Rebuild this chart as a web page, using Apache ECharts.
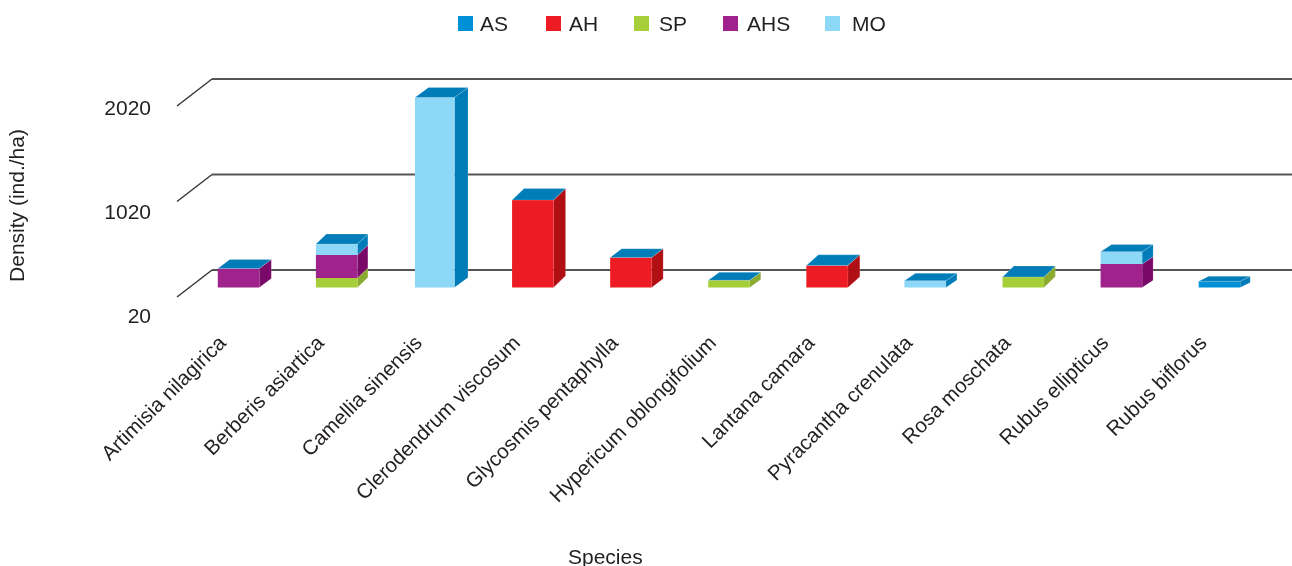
<!DOCTYPE html>
<html>
<head>
<meta charset="utf-8">
<style>html,body{margin:0;padding:0;background:#fff}#chart{width:1292px;height:566px}</style>
<script src="https://cdn.jsdelivr.net/npm/echarts@6/dist/echarts.min.js"></script>
</head>
<body>
<div id="chart"></div>
<script>
// Plant density per species, split by use group. Stacks are read off a value
// axis that starts at 20, so the lowest segment of each stack includes that offset.
const species = ['Artimisia nilagirica', 'Berberis asiartica', 'Camellia sinensis',
  'Clerodendrum viscosum', 'Glycosmis pentaphylla', 'Hypericum oblongifolium',
  'Lantana camara', 'Pyracantha crenulata', 'Rosa moschata', 'Rubus ellipticus', 'Rubus biflorus'];
const AS  = [0, 0, 0, 0, 0, 0, 0, 0, 0, 0, 85];
const AH  = [0, 0, 0, 935, 335, 0, 250, 0, 0, 0, 0];
const SP  = [0, 120, 0, 0, 0, 95, 0, 0, 130, 0, 0];
const AHS = [220, 240, 0, 0, 0, 0, 0, 0, 0, 265, 0];
const MO  = [0, 115, 2010, 0, 0, 0, 0, 90, 0, 130, 0];
const yTicks = [20, 1020, 2020];

const groups = [
  { name: 'AS',  values: AS,  front: '#0090D7', side: '#007DB8', left: 458, gap: 2 },
  { name: 'AH',  values: AH,  front: '#ED1C24', side: '#B00F14', left: 546, gap: 3 },
  { name: 'SP',  values: SP,  front: '#A6CE39', side: '#8BAA30', left: 634, gap: 5 },
  { name: 'AHS', values: AHS, front: '#A0228D', side: '#7A0868', left: 723, gap: 4 },
  { name: 'MO',  values: MO,  front: '#8DD7F7', side: '#007DB8', left: 825, gap: 7 }
];
const topFace = '#007DB8';
const inkColor = '#231F20';
const fontFamily = '"Liberation Sans", Arial, sans-serif';
const fontSize = 21;

// Receding depth and front width of each box, as drawn per species
const boxShape = [[12, 9, 41.5], [10.5, 10, 41.5], [13.5, 10, 39.5], [12, 11.7, 41.5], [11.5, 8.7, 41.5], [11, 8, 41.5],
  [12, 10.7, 41.5], [11, 7.6, 41.5], [11.3, 11, 41.5], [11, 7.3, 41.5], [10, 5, 41.5]];
const floorBack = -17.5, floorFront = 9.5; // wall lines relative to the box plane
const wallLeft = 212, wallRight = 1292, slashDx = 35;

// Stack bookkeeping: each group's [low, high] per species, and which one caps the stack
const stackTop = species.map((_, i) => groups.reduce((s, g) => s + g.values[i], 0));
const running = species.map(() => 0);
const segments = groups.map(() => []);
[2, 3, 1, 0, 4].forEach(gi => {
  groups[gi].values.forEach((v, i) => {
    if (!v) return;
    const low = running[i];
    running[i] += v;
    segments[gi].push([i, low, running[i], running[i] === stackTop[i] ? 1 : 0]);
  });
});

function poly(points, fill, stroke) {
  return { type: 'polygon', shape: { points },
    style: { fill, stroke: stroke || null, lineWidth: stroke ? 0.8 : 0 } };
}

function boxRenderer(group) {
  return function (params, api) {
    const i = api.value(0);
    const [dx, dy, width] = boxShape[i];
    const cx = api.coord([i, 20])[0];
    const x0 = cx - width / 2, x1 = cx + width / 2;
    const yLow = api.coord([i, Math.max(api.value(1), 20)])[1];
    const yHigh = api.coord([i, api.value(2)])[1];
    const kids = [
      poly([[x1, yLow], [x1 + dx, yLow - dy], [x1 + dx, yHigh - dy], [x1, yHigh]], group.side, 'rgba(255,255,255,0.18)'),
      poly([[x0, yLow], [x1, yLow], [x1, yHigh], [x0, yHigh]], group.front)
    ];
    if (api.value(3)) {
      kids.push(poly([[x0, yHigh], [x1, yHigh], [x1 + dx, yHigh - dy], [x0 + dx, yHigh - dy]],
        topFace, 'rgba(255,255,255,0.25)'));
    }
    return { type: 'group', children: kids };
  };
}

// Back wall lines and the short slashes running forward from them
function wallRenderer(params, api) {
  const y = api.coord([0, api.value(0)])[1];
  return { type: 'group', silent: true, children: [
    { type: 'line', shape: { x1: wallLeft, y1: y + floorBack, x2: wallRight, y2: y + floorBack },
      style: { stroke: '#555', lineWidth: 2, fill: null } },
    { type: 'line', shape: { x1: wallLeft - slashDx, y1: y + floorFront, x2: wallLeft, y2: y + floorBack },
      style: { stroke: '#333', lineWidth: 1.4, fill: null } }
  ] };
}

const series = [{
  type: 'custom', name: 'wall', coordinateSystem: 'cartesian2d', xAxisIndex: 0, yAxisIndex: 0,
  renderItem: wallRenderer, data: yTicks.map(v => [v]), clip: false, silent: true,
  encode: { y: 0 }, z: 1
}].concat(groups.map((g, gi) => ({
  type: 'custom', name: g.name, coordinateSystem: 'cartesian2d', xAxisIndex: 0, yAxisIndex: 0,
  renderItem: boxRenderer(g), data: segments[gi], clip: false,
  encode: { x: 0, y: 2 }, itemStyle: { color: g.front }, z: 2
})));

const textStyle = { color: inkColor, fontFamily, fontSize };

const chart = echarts.init(document.getElementById('chart'), null, { renderer: 'canvas' });
chart.setOption({
  animation: false,
  backgroundColor: '#fff',
  legend: groups.map(g => ({
    data: [g.name], left: g.left, top: 15, padding: 0, icon: 'rect', itemWidth: 15, itemHeight: 15,
    selectedMode: false, formatter: '{t|{name}}',
    textStyle: Object.assign({}, textStyle, {
      rich: { t: Object.assign({}, textStyle, { padding: [4, 0, 0, g.gap] }) }
    })
  })),
  title: { text: 'Species', left: 568, top: 548, padding: 0,
    textStyle: { color: inkColor, fontFamily, fontSize, fontWeight: 'normal' } },
  grid: [
    { left: 189.5, right: 23.5, top: 96.5, height: 191 },
    { left: 159, width: 20, top: 109, height: 208 }
  ],
  xAxis: [
    { type: 'category', gridIndex: 0, data: species, axisLine: { show: false }, axisTick: { show: false },
      splitLine: { show: false },
      axisLabel: Object.assign({}, textStyle, { fontSize: 20.6, rotate: 45, margin: 37, interval: 0, padding: [0, 22, 0, 0] }) },
    { type: 'value', gridIndex: 1, show: false }
  ],
  yAxis: [
    { type: 'value', gridIndex: 0, min: 20, max: 2020, show: false },
    { type: 'value', gridIndex: 1, min: 20, max: 2020,
      axisLine: { show: false }, axisTick: { show: false }, splitLine: { show: false },
      axisLabel: Object.assign({}, textStyle, { margin: 8, customValues: yTicks, formatter: v => String(v) }),
      name: 'Density (ind./ha)', nameLocation: 'middle', nameGap: 130,
      nameTextStyle: Object.assign({}, textStyle, { padding: [0, 0, 0, 15] }) }
  ],
  series
});
</script>
</body>
</html>
